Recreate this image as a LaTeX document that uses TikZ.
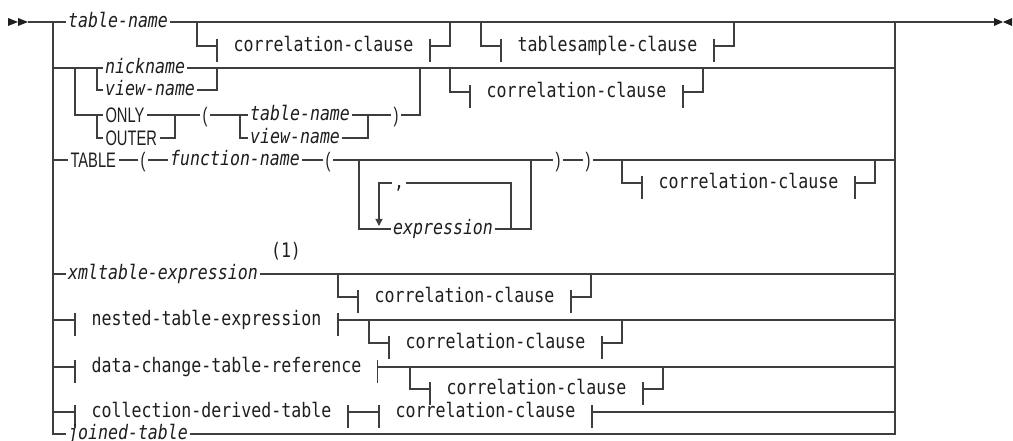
\documentclass[tikz,border=0pt]{standalone}
\usepackage{fontspec}
\usetikzlibrary{arrows.meta}
\newfontfamily\railfont[FakeStretch=0.83]{DejaVu Sans Mono}
\newfontfamily\kwfont[FakeStretch=0.7]{Liberation Sans}
\newcommand\railsize{\fontsize{20}{22}\selectfont}
\definecolor{ink}{RGB}{62,62,62}
\definecolor{type}{RGB}{30,30,30}
\newcommand\fragticks[1]{%
  \draw ([yshift=7pt]#1.west) -- ([yshift=-16pt]#1.west)
        ([yshift=7pt]#1.east) -- ([yshift=-16pt]#1.east);}
\newcommand\bypass[2]{%
  \draw (#1.west) -- ++(-20,0) -- ++(0,-#2) (#1.east) -- ++(20,0) -- ++(0,-#2);}
\tikzset{
  >={Triangle[length=7pt,width=7pt]},
  word/.style={anchor=west,inner xsep=1.5pt,inner ysep=0pt,text height=11pt,text depth=0pt,
    font=\railfont\railsize\itshape,text=type},
  frag/.style={word,inner xsep=16pt,font=\railfont\railsize},
  kw/.style={anchor=west,inner xsep=2pt,inner ysep=0pt,text height=15pt,text depth=0pt,
    font=\kwfont\fontsize{21}{23}\selectfont,text=type},
  paren/.style={kw,anchor=center},
  note/.style={inner sep=0pt,font=\railfont\railsize,text=type},
}
\begin{document}
\begin{tikzpicture}[x=1pt,y=-1pt,line width=1.1pt,color=ink]
  \useasboundingbox (0,0) rectangle (1013,441);
  \coordinate (start) at (28,22); \coordinate (stop) at (994,22);
  \coordinate (lrail) at (53,22); \coordinate (rrail) at (895,22);
  \fill[type] (8,18) -- (18,22) -- (8,26) -- cycle (18,18) -- (28,22) -- (18,26) -- cycle;
  \fill[type] (994,18) -- (1003,22) -- (994,26) -- cycle (1012,18) -- (1003,22) -- (1012,26) -- cycle;
  % first row
  \node[word] (tname) at (66,22) {table-name};
  \node[frag] (cc1) at (217,46) {correlation-clause}; \fragticks{cc1} \bypass{cc1}{24}
  \node[frag] (tsc) at (501,46) {tablesample-clause}; \fragticks{tsc} \bypass{tsc}{24}
  \draw (start) -- (tname.west) (tname.east) -- (stop);
  \draw[line width=2pt] ([xshift=5pt]rrail) -- ([xshift=25pt]rrail);
  % nickname / view-name / ONLY / OUTER
  \node[word] (nick) at (103,68) {nickname};
  \node[word] (vname) at (103,90) {view-name};
  \node[kw] (only) at (103,115) {ONLY};
  \node[kw] (outer) at (103,138) {OUTER};
  \node[paren] (lp1) at (205,115) {(};
  \node[word] (tname2) at (248,115) {table-name};
  \node[word] (vname2) at (248,138) {view-name};
  \node[paren] (rp1) at (396,115) {)};
  \coordinate (j1) at (175,115); \coordinate (j2) at (368,115); \coordinate (j3) at (420,68);
  \draw (lrail |- nick) -- (nick.west) (nick.east) -- (rrail |- nick);
  \draw ([xshift=-6pt]nick.west) |- (vname.west) (vname.east) -| (cc1.west |- nick);
  \draw ([xshift=-28pt]nick.west) |- (only.west) ([xshift=-6pt]only.west) |- (outer.west);
  \draw (only.east) -- (lp1.west) (outer.east) -| (j1);
  \draw (lp1.east) -- (tname2.west) ([xshift=-8pt]tname2.west) |- (vname2.west);
  \draw (tname2.east) -- (rp1.west) (vname2.east) -| (j2) (rp1.east) -| (j3);
  \node[frag] (cc2) at (470,92) {correlation-clause}; \fragticks{cc2} \bypass{cc2}{24}
  % TABLE ( function-name ( expression ) )
  \node[kw] (table) at (68,160) {TABLE};
  \node[paren] (lp2) at (143,160) {(};
  \node[word] (fname) at (168,160) {function-name};
  \node[paren] (lp3) at (328,160) {(};
  \node[word] (expr) at (391,229) {expression};
  \node[word,font=\railfont\railsize] (comma) at (392,183) {,};
  \node[paren] (rp2) at (558,160) {)};
  \node[paren] (rp3) at (588,160) {)};
  \coordinate (e1) at (359,160); \coordinate (e2) at (531,160);
  \coordinate (r1) at (511,229); \coordinate (r2) at (379,226);
  \draw (lrail |- table) -- (table.west) (table.east) -- (lp2.west) (lp2.east) -- (fname.west)
    (fname.east) -- (lp3.west) (lp3.east) -- (rp2.west) (rp2.east) -- (rp3.west) (rp3.east) -- (rrail |- table);
  \draw (e1) |- (expr.west) (expr.east) -| (e2);
  \draw (r1) |- (comma.east); \draw[->] (comma.west) -| (r2);
  \node[frag] (cc3) at (642,183) {correlation-clause}; \fragticks{cc3} \bypass{cc3}{23}
  % xmltable-expression
  \node[word] (xml) at (66,274) {xmltable-expression};
  \node[note] (n1) at (286,251) {(1)};
  \draw (lrail |- xml) -- (xml.west) (xml.east) -- (rrail |- xml);
  \node[frag] (cc4) at (358,297) {correlation-clause}; \fragticks{cc4} \bypass{cc4}{23}
  % fragments
  \node[frag] (nte) at (75,320) {nested-table-expression}; \fragticks{nte}
  \draw (lrail |- nte) -- (nte.west) (nte.east) -- (rrail |- nte);
  \node[frag] (cc5) at (389,343) {correlation-clause}; \fragticks{cc5} \bypass{cc5}{23}
  \node[frag] (dctr) at (75,367) {data-change-table-reference}; \fragticks{dctr}
  \draw (lrail |- dctr) -- (dctr.west) (dctr.east) -- (rrail |- dctr);
  \node[frag] (cc6) at (430,389) {correlation-clause}; \fragticks{cc6} \bypass{cc6}{22}
  \node[frag] (cdt) at (75,412) {collection-derived-table}; \fragticks{cdt}
  \node[frag] (cc7) at (379,412) {correlation-clause}; \fragticks{cc7}
  \draw (lrail |- cdt) -- (cdt.west) (cdt.east) -- (cc7.west) (cc7.east) -- (rrail |- cdt);
  \node[word] (joined) at (66,434) {joined-table};
  \draw (lrail) -- (lrail |- joined) -- (joined.west) (joined.east) -- (rrail |- joined) -- (rrail);
\end{tikzpicture}
\end{document}
